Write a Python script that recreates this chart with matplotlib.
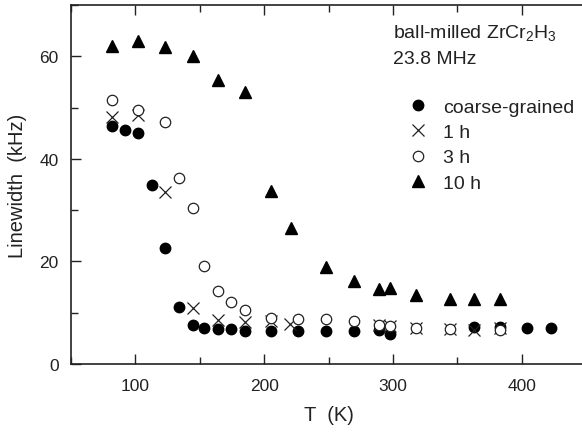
import numpy as np
import matplotlib
matplotlib.use("Agg")
import matplotlib.pyplot as plt
from matplotlib.ticker import MultipleLocator

plt.rcParams['font.family'] = ['Liberation Sans', 'DejaVu Sans']
plt.rcParams['mathtext.fontset'] = 'custom'
plt.rcParams['mathtext.rm'] = 'Liberation Sans'
plt.rcParams['mathtext.it'] = 'Liberation Sans'

# coarse-grained (filled circles)
T_cg = [82, 92, 102, 113, 123, 134, 144.5, 153, 164, 174, 185.5, 205, 226,
        248, 270, 289, 298, 363, 383, 404, 423]
L_cg = [46.5, 45.7, 45.0, 35.0, 22.7, 11.2, 7.6, 7.1, 6.8, 6.8, 6.5, 6.4, 6.4,
        6.5, 6.5, 6.6, 5.8, 7.3, 7.3, 7.0, 7.0]

# 1 h (crosses)
T_1h = [82, 102, 123, 144.5, 164, 185.5, 205, 220, 289, 298, 318, 344, 363, 383]
L_1h = [48.1, 48.5, 33.5, 10.9, 8.6, 8.1, 8.3, 7.8, 7.6, 7.4, 7.0, 6.8, 6.6, 7.0]

# 3 h (open circles)
T_3h = [82, 102, 123, 134, 144.5, 153, 164, 174, 185.5, 205, 226, 248, 270,
        289, 298, 318, 344, 383]
L_3h = [51.5, 49.6, 47.2, 36.3, 30.5, 19.2, 14.2, 12.0, 10.6, 8.9, 8.8, 8.8, 8.4,
        7.6, 7.4, 7.0, 6.8, 6.6]

# 10 h (triangles)
T_10h = [82, 102, 123, 144.5, 164, 185, 205, 221, 248, 270, 289, 298, 318, 344, 363, 383]
L_10h = [62.0, 63.0, 61.9, 60.0, 55.4, 53.0, 33.8, 26.5, 19.0, 16.2, 14.6, 14.8, 13.5,
         12.7, 12.7, 12.7]

W, H = 582, 435
fig = plt.figure(figsize=(W / 100, H / 100), dpi=100)
ax = fig.add_axes([71 / W, 70 / H, 515 / W, 359 / H])

ink = '#222222'
ax.plot(T_cg, L_cg, 'o', ms=7.5, color='black', mec='black', ls='none', label='coarse-grained')
ax.plot(T_1h, L_1h, 'x', ms=8, color='#222222', mew=0.9, ls='none', label='1 h')
ax.plot(T_3h, L_3h, 'o', ms=7.5, mfc='white', mec='#222222', mew=0.9, ls='none', label='3 h')
ax.plot(T_10h, L_10h, '^', ms=8.5, color='black', ls='none', label='10 h')

ax.set_xlim(50, 450)
ax.set_ylim(0, 70)
ax.xaxis.set_major_locator(MultipleLocator(100))
ax.xaxis.set_minor_locator(MultipleLocator(50))
ax.yaxis.set_major_locator(MultipleLocator(20))
ax.yaxis.set_minor_locator(MultipleLocator(10))
ax.tick_params(which='both', direction='in', top=True, right=False, colors=ink,
               labelsize=12.5, width=1.0)
ax.tick_params(which='major', length=7)
ax.tick_params(which='minor', length=5)
ax.tick_params(axis='x', pad=10)
ax.tick_params(axis='y', pad=9)
for s in ['left', 'bottom', 'top']:
    ax.spines[s].set_color(ink)
    ax.spines[s].set_linewidth(1.2)
ax.spines['right'].set_visible(False)

ax.set_xlabel('T  (K)', fontsize=14.5, color=ink, labelpad=9)
ax.set_ylabel('Linewidth  (kHz)', fontsize=14.5, color=ink, labelpad=9)

fig.text(393 / W, 1 - 33 / H, 'ball-milled ZrCr$_2$H$_3$', fontsize=14, color=ink, va='center')
fig.text(393 / W, 1 - 60 / H, '23.8 MHz', fontsize=14, color=ink, va='center')

leg = ax.legend(loc='upper left', bbox_to_anchor=(408 / W, 1 - 99 / H),
                bbox_transform=fig.transFigure, frameon=False, fontsize=14,
                handlelength=1.0, handletextpad=0.8, labelspacing=0.4,
                borderpad=0, borderaxespad=0)
for t in leg.get_texts():
    t.set_color(ink)

fig.savefig('out.png', dpi=100)
